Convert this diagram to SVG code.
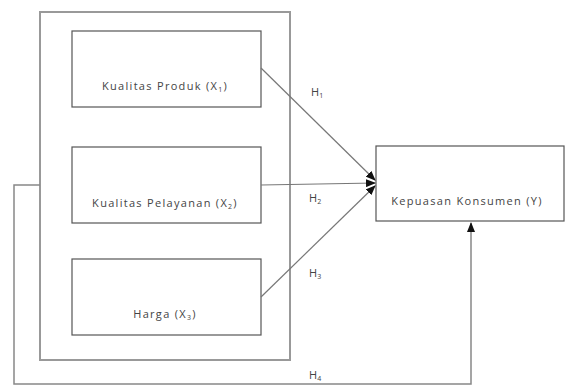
<svg xmlns="http://www.w3.org/2000/svg" width="565" height="385" viewBox="0 0 565 385">
<style>
.box{fill:#fff;stroke:#555;stroke-width:1.2}
.outer{fill:none;stroke:#999;stroke-width:2}
.lbl{font-family:"Open Sans","Liberation Sans",sans-serif;font-size:11px;letter-spacing:1.3px;fill:#444}
.h{font-family:"Open Sans","Liberation Sans",sans-serif;font-size:11px;fill:#444}
.ln{fill:none;stroke:#777;stroke-width:1.2}
.ln2{fill:none;stroke:#888;stroke-width:1.5}
</style>
<defs>
<marker id="ah" markerWidth="10" markerHeight="8" refX="9" refY="4" orient="auto" markerUnits="userSpaceOnUse">
<path d="M0,0 L10,4 L0,8 Z" fill="#111"/>
</marker>
</defs>
<g id="outer"><rect class="outer" x="40" y="12" width="250" height="348"/></g>
<g id="x1"><rect class="box" x="72" y="31" width="189" height="76"/><text class="lbl" x="165" y="90" text-anchor="middle">Kualitas Produk (X<tspan font-size="7" dy="2">1</tspan><tspan dy="-2">)</tspan></text></g>
<g id="x2"><rect class="box" x="72" y="147" width="189" height="76"/><text class="lbl" x="165" y="207" text-anchor="middle">Kualitas Pelayanan (X<tspan font-size="7" dy="2">2</tspan><tspan dy="-2">)</tspan></text></g>
<g id="x3"><rect class="box" x="72" y="259" width="189" height="76"/><text class="lbl" x="165" y="318" text-anchor="middle">Harga (X<tspan font-size="7" dy="2">3</tspan><tspan dy="-2">)</tspan></text></g>
<g id="y"><rect class="box" x="376" y="146" width="188" height="75"/><text class="lbl" x="467" y="205" text-anchor="middle">Kepuasan Konsumen (Y)</text></g>
<g id="connectors">
<line class="ln" x1="261" y1="68" x2="375" y2="180" marker-end="url(#ah)"/>
<line class="ln" x1="261" y1="185" x2="375" y2="183" marker-end="url(#ah)"/>
<line class="ln" x1="261" y1="297" x2="375" y2="186" marker-end="url(#ah)"/>
<polyline class="ln2" points="40,185 14,185 14,384 471,384 471,223" marker-end="url(#ah)"/>
</g>
<g id="labels">
<text class="h" x="311" y="96">H<tspan font-size="7" dy="2">1</tspan></text>
<text class="h" x="309" y="202">H<tspan font-size="7" dy="2">2</tspan></text>
<text class="h" x="309" y="277">H<tspan font-size="7" dy="2">3</tspan></text>
<text class="h" x="309" y="379">H<tspan font-size="7" dy="2">4</tspan></text>
</g>
</svg>
